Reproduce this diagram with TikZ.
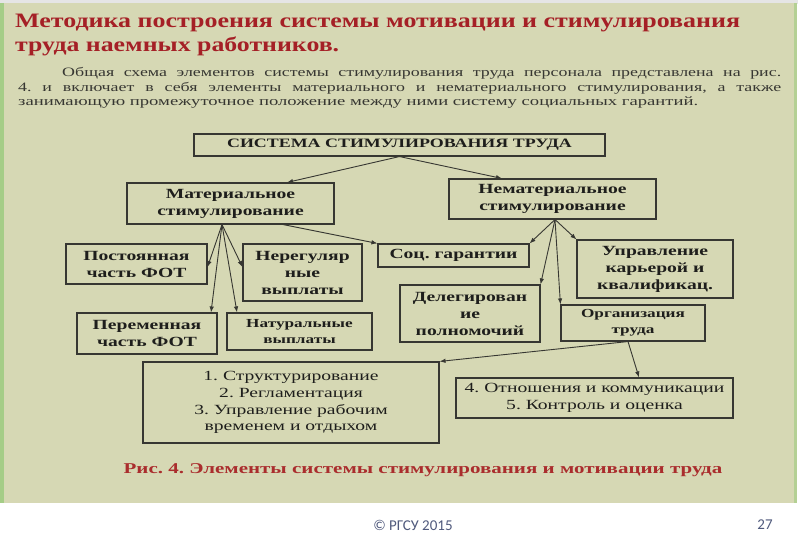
\documentclass[tikz,border=0pt]{standalone}
\usepackage{fontspec}
\usepackage{graphicx}
\setmainfont{Liberation Serif}
\newfontfamily\ser[FakeStretch=1.4]{Liberation Serif}
\newfontfamily\footf{Carlito}
\usetikzlibrary{arrows.meta}
\frenchspacing
\definecolor{bg}{RGB}{214,216,180}
\definecolor{edgegreen}{RGB}{165,205,135}
\definecolor{titlered}{RGB}{165,32,38}
\definecolor{capred}{RGB}{170,45,45}
\definecolor{boxline}{RGB}{55,55,50}
\definecolor{textdark}{RGB}{30,30,28}
\definecolor{partext}{RGB}{55,55,50}
\definecolor{footc}{RGB}{80,90,125}
\tikzset{
  dbox/.style={draw=boxline, line width=1.1pt, inner sep=0pt, align=center,
    text=textdark, font=\ser\bfseries\fontsize{14}{17}\selectfont},
  smallbox/.style={dbox, font=\ser\bfseries\fontsize{12.3}{16}\selectfont},
  regbox/.style={dbox, font=\ser\fontsize{14}{16.8}\selectfont},
  arr/.style={draw=boxline, line width=0.9pt, -{Latex[length=6pt,width=4.5pt]}},
  txt/.style={inner sep=0pt, anchor=west},
  titletxt/.style={txt, text=titlered, font=\ser\bfseries\fontsize{20.5}{22}\selectfont},
  partxt/.style={txt, text=partext, font=\ser\fontsize{12.8}{15}\selectfont}
}
\begin{document}
\frenchspacing
\begin{tikzpicture}[x=1pt,y=-1pt]
\useasboundingbox (0,0) rectangle (800,553);
\fill[white] (0,0) rectangle (800,553);
\fill[black!10] (0,0) rectangle (798,4);
\fill[bg] (2,3) rectangle (797,503);
\fill[edgegreen] (0,3) rectangle (4,503);
\fill[edgegreen!70!bg] (794,3) rectangle (797,503);

% title
\node[titletxt] (t1) at (15,23)
  {\resizebox{725pt}{\height}{Методика построения системы мотивации и стимулирования}};
\node[titletxt] (t2) at (15,46)
  {\resizebox{324pt}{\height}{труда наемных работников.}};

% paragraph
\node[partxt] (p1) at (62,73)
  {\makebox[719pt][s]{Общая схема элементов системы стимулирования труда персонала представлена на рис.}};
\node[partxt] (p2) at (18,88)
  {\makebox[763pt][s]{4. и включает в себя элементы материального и нематериального стимулирования, а также}};
\node[partxt] (p3) at (18,103)
  {\resizebox{680pt}{\height}{занимающую промежуточное положение между ними систему социальных гарантий.}};

% boxes
\node[dbox, minimum width=411pt, minimum height=22pt, font=\ser\bfseries\fontsize{12.8}{15}\selectfont] (top) at (399.5,145)
  {СИСТЕМА СТИМУЛИРОВАНИЯ ТРУДА};
\node[dbox, minimum width=207pt, minimum height=41pt] (mat) at (230.5,203.5)
  {Материальное\\стимулирование};
\node[dbox, minimum width=207pt, minimum height=40pt] (nemat) at (552.5,199)
  {Нематериальное\\стимулирование};
\node[dbox, minimum width=141pt, minimum height=40pt] (post) at (136.5,264)
  {Постоянная\\часть ФОТ};
\node[dbox, minimum width=119pt, minimum height=57pt] (nereg) at (302.5,272.5)
  {Нерегуляр\\ные\\выплаты};
\node[dbox, minimum width=151pt, minimum height=23pt] (soc) at (453.5,255.5)
  {Соц. гарантии};
\node[dbox, minimum width=140pt, minimum height=41pt] (perem) at (147,333.5)
  {Переменная\\часть ФОТ};
\node[smallbox, minimum width=145pt, minimum height=37pt] (natur) at (299.5,331.5)
  {Натуральные\\выплаты};
\node[dbox, minimum width=140pt, minimum height=57pt] (deleg) at (470,313.5)
  {Делегирован\\ие\\полномочий};
\node[dbox, minimum width=156pt, minimum height=58pt] (uprav) at (655,269)
  {Управление\\карьерой и\\квалификац.};
\node[smallbox, minimum width=144pt, minimum height=36pt] (org) at (633,323)
  {Организация\\труда};
\node[regbox, minimum width=296pt, minimum height=81pt] (b1) at (291,402.5)
  {1. Структурирование\\2. Регламентация\\3. Управление рабочим\\временем и отдыхом};
\node[regbox, minimum width=277pt, minimum height=40pt] (b2) at (594.5,398)
  {4. Отношения и коммуникации\\5. Контроль и оценка};

% arrows
\draw[arr] (top.south) -- ([xshift=56.5pt]mat.north);
\draw[arr] (top.south) -- ([xshift=-50.5pt]nemat.north);
\coordinate (ms) at ([xshift=-8.5pt]mat.south);
\draw[arr] (ms) -- ([yshift=-3pt]post.east);
\draw[arr] (ms) -- ([yshift=5.5pt]nereg.west);
\draw[arr] (ms) -- ([xshift=64pt]perem.north);
\draw[arr] (ms) -- ([xshift=-62.5pt]natur.north);
\draw[arr] ([xshift=52.5pt]mat.south) -- (soc.north west);
\coordinate (ns) at ([xshift=2.5pt]nemat.south);
\draw[arr] (ns) -- (soc.north east);
\draw[arr] (ns) -- (deleg.north east);
\draw[arr] (ns) -- (org.north west);
\draw[arr] (ns) -- (uprav.north west);
\coordinate (os) at ([xshift=-5pt]org.south);
\draw[arr] (os) -- (b1.north east);
\draw[arr] (os) -- ([xshift=44.5pt]b2.north);

% caption
\node[inner sep=0pt, text=capred, font=\ser\bfseries\fontsize{15}{17}\selectfont] (cap) at (423,470)
  {Рис. 4. Элементы системы стимулирования и мотивации труда};

% footer
\node[inner sep=0pt, text=footc, font=\footf\fontsize{15}{17}\selectfont] (foot) at (413,525) {© РГСУ 2015};
\node[inner sep=0pt, text=footc, font=\footf\fontsize{15}{17}\selectfont] (pg) at (765,525) {27};
\end{tikzpicture}
\end{document}
